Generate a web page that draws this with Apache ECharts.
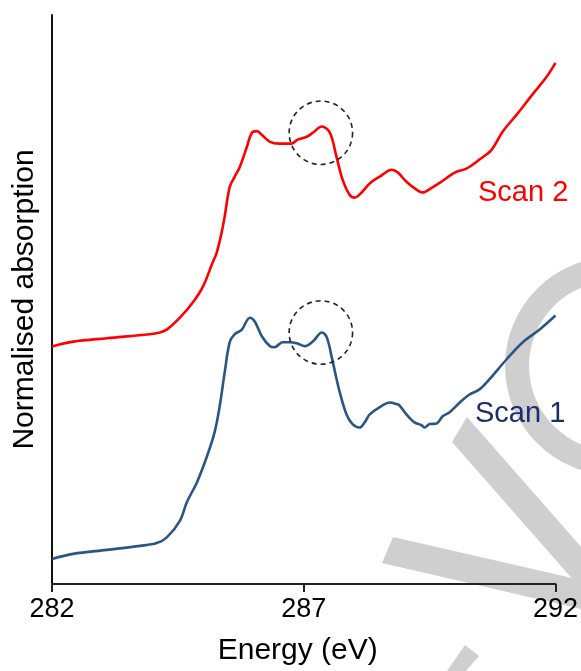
<!DOCTYPE html>
<html>
<head>
<meta charset="utf-8">
<title>Normalised absorption vs energy</title>
<script src="https://cdn.jsdelivr.net/npm/echarts@6/dist/echarts.min.js"></script>
<style>
  html, body { margin: 0; padding: 0; background: #ffffff; }
  #chart { width: 581px; height: 671px; }
</style>
</head>
<body>
<div id="chart"></div>
<script>
// Photon energy (eV) and normalised absorption (arbitrary, offset units)
const scan2Energy = [282.00, 282.42, 283.09, 283.94, 284.14, 284.28, 284.54, 284.80, 285.00, 285.19,
  285.27, 285.37, 285.43, 285.53, 285.63, 285.73, 285.87, 285.97, 286.07, 286.17,
  286.33, 286.52, 286.76, 286.88, 287.06, 287.18, 287.36, 287.52, 287.65, 287.77,
  287.91, 288.01, 288.15, 288.31, 288.51, 288.75, 288.87, 289.04, 289.24, 289.36,
  289.54, 289.70, 290.00, 290.23, 290.49, 290.73, 290.95, 291.23, 291.54, 291.82, 292.00];
const scan2Absorption = [41.75, 42.6, 43.2, 43.9, 44.2, 44.7, 46.8, 49.5, 52.3, 56.5,
  58.2, 61.8, 64.6, 69.8, 71.6, 73.3, 76.8, 79.3, 79.6, 78.9,
  77.7, 77.4, 77.4, 78.1, 78.6, 79.3, 80.4, 79.3, 75.1, 71.1,
  68.4, 67.9, 68.8, 70.4, 71.6, 72.8, 72.3, 70.7, 69.3, 68.8,
  69.6, 70.5, 72.3, 73.0, 74.6, 76.3, 79.5, 82.5, 86.0, 89.1, 91.6];

const scan1Energy = [282.00, 282.42, 283.09, 283.75, 284.08, 284.28, 284.54, 284.68, 284.88, 285.08,
  285.23, 285.33, 285.43, 285.53, 285.63, 285.77, 285.93, 286.03, 286.17, 286.33,
  286.42, 286.58, 286.72, 286.86, 287.02, 287.18, 287.36, 287.46, 287.58, 287.71,
  287.85, 287.97, 288.11, 288.21, 288.31, 288.51, 288.71, 288.85, 288.90, 289.04,
  289.20, 289.34, 289.40, 289.50, 289.64, 289.76, 289.90, 290.10, 290.29, 290.49,
  290.69, 291.03, 291.35, 291.68, 292.00];
const scan1Absorption = [4.4, 5.3, 6.0, 6.7, 7.2, 8.2, 11.1, 14.4, 17.9, 22.5,
  26.7, 31.2, 37.2, 42.5, 43.9, 44.7, 46.8, 46.1, 43.5, 41.8,
  41.6, 42.5, 42.5, 42.3, 41.8, 42.6, 44.2, 43.3, 38.9, 33.9,
  29.8, 28.1, 27.5, 28.4, 29.8, 31.1, 31.9, 31.6, 31.4, 29.8,
  28.4, 27.9, 27.5, 28.1, 28.2, 29.5, 30.2, 31.9, 33.3, 34.2,
  36.0, 39.5, 42.5, 44.7, 47.2];

// Highlighted feature near 287.3 eV on each scan (centre energy, level, radius in eV)
const highlightEnergy = [287.34, 287.34];
const highlightLevel = [79.3, 44.2];
const highlightRadius = 0.63;

const xTicks = { min: 282, max: 292, step: 5 };
const seriesNames = ['Scan 2', 'Scan 1'];

const FONT = "'Liberation Sans', Arial, sans-serif";
const zip = (xs, ys) => xs.map((x, i) => [x, ys[i]]);
const WM = '#cfcfcf';

const chart = echarts.init(document.getElementById('chart'), null, { renderer: 'canvas' });

chart.setOption({
  animation: false,
  backgroundColor: '#ffffff',
  grid: { left: 52, right: 25, top: 15, bottom: 86, containLabel: false },
  xAxis: {
    type: 'value',
    min: xTicks.min,
    max: xTicks.max,
    interval: xTicks.step,
    name: 'Energy (eV)',
    nameLocation: 'middle',
    nameGap: 52,
    nameTextStyle: { fontFamily: FONT, fontSize: 30, color: '#000', padding: [0, 12, 0, 0] },
    axisLine: { show: true, lineStyle: { color: '#222', width: 2 } },
    axisTick: { show: true, length: 8, lineStyle: { color: '#222', width: 2 } },
    axisLabel: { fontFamily: FONT, fontSize: 27, color: '#000', margin: 12 },
    splitLine: { show: false }
  },
  yAxis: {
    type: 'value',
    min: 0,
    max: 100,
    name: 'Normalised absorption',
    nameLocation: 'middle',
    nameGap: 12,
    nameTextStyle: { fontFamily: FONT, fontSize: 30, color: '#000' },
    axisLine: { show: true, lineStyle: { color: '#111', width: 2 } },
    axisTick: { show: false },
    axisLabel: { show: false },
    splitLine: { show: false }
  },
  graphic: [
    // light grey background marks
    { type: 'ring', z: -10, shape: { cx: 614, cy: 366, r: 109, r0: 85 }, style: { fill: WM } },
    { type: 'polygon', z: -10, shape: { points: [[467, 417], [620, 591], [620, 633], [452, 442]] }, style: { fill: WM } },
    { type: 'polygon', z: -10, shape: { points: [[393, 537], [620, 589], [620, 618], [382, 563]] }, style: { fill: WM } },
    { type: 'polygon', z: -10, shape: { points: [[465, 645], [479, 656], [458, 680], [441, 680]] }, style: { fill: WM } },
    // series labels
    { type: 'text', z: 10, x: 478, y: 193,
      style: { text: seriesNames[0], fontFamily: FONT, fontSize: 29, fill: '#ff0000', verticalAlign: 'middle', align: 'left' } },
    { type: 'text', z: 10, x: 475, y: 414,
      style: { text: seriesNames[1], fontFamily: FONT, fontSize: 29, fill: '#1c2d6c', verticalAlign: 'middle', align: 'left' } }
  ],
  series: [
    {
      name: seriesNames[0],
      type: 'line',
      data: zip(scan2Energy, scan2Absorption),
      smooth: 0.35,
      showSymbol: false,
      lineStyle: { color: '#ff0000', width: 2.6 },
      z: 3
    },
    {
      name: seriesNames[1],
      type: 'line',
      data: zip(scan1Energy, scan1Absorption),
      smooth: 0.35,
      showSymbol: false,
      lineStyle: { color: '#2a5683', width: 2.6 },
      z: 3
    },
    {
      name: 'highlight',
      type: 'custom',
      clip: false,
      z: 4,
      data: zip(highlightEnergy, highlightLevel),
      renderItem: (params, api) => {
        const c = api.coord([api.value(0), api.value(1)]);
        const r = api.size([highlightRadius, 0])[0];
        return {
          type: 'circle',
          shape: { cx: c[0], cy: c[1], r: r },
          style: { fill: 'none', stroke: '#222', lineWidth: 1.6, lineDash: [5, 4] }
        };
      }
    }
  ]
});
</script>
</body>
</html>
